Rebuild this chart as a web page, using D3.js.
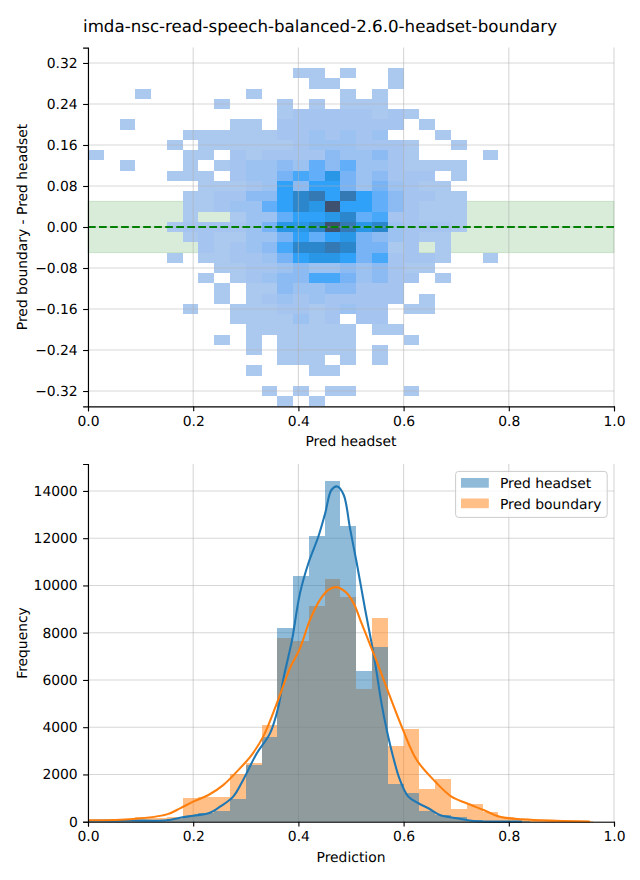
<!DOCTYPE html>
<html>
<head>
<meta charset="utf-8">
<script src="https://cdn.jsdelivr.net/npm/d3@7/dist/d3.min.js"></script>
<style>
html,body{margin:0;padding:0;background:#fff}
svg{display:block}
text{font-family:"DejaVu Sans",sans-serif;fill:#000;text-rendering:geometricPrecision}
</style>
</head>
<body>
<svg id="c" width="640" height="880"></svg>
<script>
const titleText = "imda-nsc-read-speech-balanced-2.6.0-headset-boundary";
const xTicks = [0, 0.2, 0.4, 0.6, 0.8, 1.0];
const diffTicks = [-0.32, -0.24, -0.16, -0.08, 0, 0.08, 0.16, 0.24, 0.32];
const freqTicks = [0, 2000, 4000, 6000, 8000, 10000, 12000, 14000];
const binWidth = 0.03;
const rowHeight = 0.02;
const topRowIndex = 15;
// density level per cell (hex digit), one string per row from the top, one char per x bin
const heatRows = [
".............11.1..1......",
"..............11...1......",
"...1......1.....1.1.......",
"........1...1.1.111.......",
"............122222121.....",
"..1......11.22222222.1....",
"......1111112232323...1...",
".....1.11111123332221..1..",
"1.....11.212222433421....1",
"..1...1.1233436463321111..",
".....111.2335769534222.1..",
".......1112384885353211...",
"......1122448ab8b8642211..",
"......1123368a9c88642111..",
"......1..1336889a6722111..",
".....122223599acb9a32221..",
"......12113358689543211...",
".......212347aaba5512.1...",
".....1.1122358998572221..1",
"........11223433434211....",
".......1.123447753422.1...",
"........1.1143344222......",
"........1.1232322222.1....",
"......1..1112212322.11....",
".........1111312.22.......",
"..........1111111.11......",
"........1.1.11111...1.....",
"..........1.11111.1.......",
"............111.1.1.......",
"..........1...11..........",
"..........................",
"...........1.1.11...1.....",
"............1.1..........."
];
const levelStops = [1, 2, 3, 4, 5, 6, 7, 8, 9, 10, 11, 12];
const levelColors = ["#abc8ef","#a5c5f0","#9cc2f1","#8cbbf3","#78b4f5","#62aef8","#47a7f9","#30a1f8","#2a96e6","#2c86cc","#3478b4","#3e526f"];

const histBlue = [40,40,50,60,70,100,250,370,450,970,2390,3580,8200,10400,12100,14430,12520,6380,7400,1600,1215,450,280,210,70,40,20,10,0,0,0,0];
const histOrange = [50,60,100,180,150,180,1000,1060,1060,2000,2470,4090,7780,7650,9130,10280,9520,5620,8630,3210,3930,1385,1810,540,750,410,200,130,70,60,40,40];

const kdeBlueX = [0.002,0.08,0.150,0.175,0.200,0.229,0.251,0.276,0.295,0.321,0.346,0.362,0.371,0.381,0.388,0.403,0.419,0.438,0.451,0.463,0.474,0.486,0.498,0.511,0.527,0.541,0.549,0.558,0.568,0.580,0.593,0.609,0.628,0.647,0.669,0.701,0.733,0.825];
const kdeBlueY = [40,50,60,170,255,355,635,1060,1770,2900,3740,4870,6000,6990,7700,9670,10940,12070,13060,14050,14190,13840,12430,10940,8970,7340,6285,5010,3880,2750,1770,1060,780,570,285,145,30,10];
const kdeOrangeX = [0.002,0.086,0.150,0.175,0.200,0.229,0.257,0.283,0.311,0.333,0.359,0.384,0.403,0.422,0.441,0.457,0.471,0.489,0.505,0.520,0.539,0.555,0.574,0.599,0.625,0.660,0.691,0.720,0.752,0.783,0.827,0.891,0.954];
const kdeOrangeY = [60,115,310,565,850,1130,1550,2120,2820,3600,5010,6500,7340,8540,9390,9810,9930,9740,9250,8400,7340,6430,5300,3880,2610,1700,1060,780,495,210,100,40,10];
const legendLabels = ["Pred headset", "Pred boundary"];

const blue = "#1f77b4", orange = "#ff7f0e", gridCol = "#b0b0b0";
const svg = d3.select("#c");
const fs = 13.89;

svg.append("text").attr("x", 320).attr("y", 32).attr("text-anchor","middle").style("font-size","16.67px").text(titleText);

const xA = d3.scaleLinear().domain([0,1]).range([88,614]);
const yA = d3.scaleLinear().domain([-0.35,0.35]).range([406.4,47.6]);
const xB = d3.scaleLinear().domain([0,1]).range([88,614]);
const yB = d3.scaleLinear().domain([0,15140]).range([821.7,464]);

const levelColor = d3.scaleLinear().domain(levelStops).range(levelColors).interpolate(d3.interpolateRgb);
const fmt = v => (v < 0 ? "\u2212" : "") + Math.abs(v).toFixed(2);

function grid(g, x, y, xt, yt){
  g.selectAll("line.gx").data(xt).join("line").attr("class","gx").attr("x1",d=>x(d)).attr("x2",d=>x(d)).attr("y1",y.range()[0]).attr("y2",y.range()[1])
   .attr("stroke",gridCol).attr("stroke-opacity",0.5).attr("stroke-width",1.1);
  g.selectAll("line.gy").data(yt).join("line").attr("class","gy").attr("x1",x.range()[0]).attr("x2",x.range()[1]).attr("y1",d=>y(d)).attr("y2",d=>y(d))
   .attr("stroke",gridCol).attr("stroke-opacity",0.5).attr("stroke-width",1.1);
}
function axes(x, y, xt, yt, yFmt, xLabel, yLabel, xLabelY, yLabelMid){
  const gx = svg.append("g").attr("transform",`translate(0,${y.range()[0]})`)
    .call(d3.axisBottom(x).tickValues(xt).tickFormat(d3.format(".1f")).tickSize(4.9).tickPadding(4.9));
  const gy = svg.append("g").attr("transform",`translate(${x.range()[0]},0)`)
    .call(d3.axisLeft(y).tickValues(yt).tickFormat(yFmt).tickSize(4.9).tickPadding(5.4));
  for (const g of [gx,gy]) {
    g.selectAll("text").style("font-size",fs+"px").style("font-family",'"DejaVu Sans"');
    g.selectAll("path,line").attr("stroke","#000").attr("stroke-width",1.1);
    g.attr("font-family",null);
  }
  svg.append("text").attr("x",(x.range()[0]+x.range()[1])/2).attr("y",xLabelY).attr("text-anchor","middle").style("font-size",fs+"px").text(xLabel);
  svg.append("text").attr("transform",`translate(27,${yLabelMid}) rotate(-90)`).attr("text-anchor","middle").style("font-size",fs+"px").text(yLabel);
}

/* top panel */
const cells = [];
heatRows.forEach((row,i)=>{ const k = topRowIndex - i;
  row.split("").forEach((ch,c)=>{ if(ch!=="."){ cells.push({c, k, v: parseInt(ch,16)}); } });
});
svg.append("rect").attr("x",xA(0)).attr("width",xA(1)-xA(0)).attr("y",yA(0.05)).attr("height",yA(-0.05)-yA(0.05))
  .attr("fill","green").attr("fill-opacity",0.15).attr("stroke","green").attr("stroke-opacity",0.15).attr("stroke-width",1);
const gA = svg.append("g").attr("shape-rendering","crispEdges");
gA.selectAll("rect").data(cells).join("rect")
  .attr("x",d=>xA(d.c*binWidth)).attr("width",xA(binWidth)-xA(0))
  .attr("y",d=>yA((d.k+0.5)*rowHeight)).attr("height",yA(0)-yA(rowHeight))
  .attr("fill",d=>levelColor(d.v));
grid(svg.append("g"), xA, yA, xTicks, diffTicks);
svg.append("line").attr("x1",xA(0)).attr("x2",xA(1)).attr("y1",yA(0)).attr("y2",yA(0))
  .attr("stroke","green").attr("stroke-width",2.08).attr("stroke-dasharray","7.7,3.33");
axes(xA,yA,xTicks,diffTicks,fmt,"Pred headset","Pred boundary - Pred headset",446,227);

/* bottom panel */
grid(svg.append("g"), xB, yB, xTicks, freqTicks);
function bars(vals,col){
  svg.append("g").attr("shape-rendering","crispEdges").selectAll("rect").data(vals).join("rect")
    .attr("x",(d,i)=>xB(i*binWidth)).attr("width",xB(binWidth)-xB(0))
    .attr("y",d=>yB(d)).attr("height",d=>yB(0)-yB(d))
    .attr("fill",col).attr("fill-opacity",0.5);
}
bars(histOrange,orange);
bars(histBlue,blue);
function kde(xs,ys,col){
  const line = d3.line().x(d=>xB(d[0])).y(d=>yB(d[1])).curve(d3.curveCatmullRom.alpha(0.5));
  svg.append("path").attr("d",line(d3.zip(xs,ys))).attr("fill","none").attr("stroke",col).attr("stroke-width",2.08);
}
kde(kdeBlueX,kdeBlueY,blue);
kde(kdeOrangeX,kdeOrangeY,orange);
axes(xB,yB,xTicks,freqTicks,d3.format("d"),"Prediction","Frequency",862,643);

/* legend */
const lg = svg.append("g");
lg.append("rect").attr("x",455.6).attr("y",471.4).attr("width",151.6).attr("height",46).attr("rx",3)
  .attr("fill","#fff").attr("fill-opacity",0.8).attr("stroke","#ccc");
[[blue,legendLabels[0]],[orange,legendLabels[1]]].forEach(([c,t],i)=>{
  lg.append("rect").attr("x",461).attr("y",478+i*20.5).attr("width",27.8).attr("height",9.7).attr("fill",c).attr("fill-opacity",0.5);
  lg.append("text").attr("x",500).attr("y",488+i*20.5).style("font-size",fs+"px").text(t);
});
</script>
</body>
</html>
